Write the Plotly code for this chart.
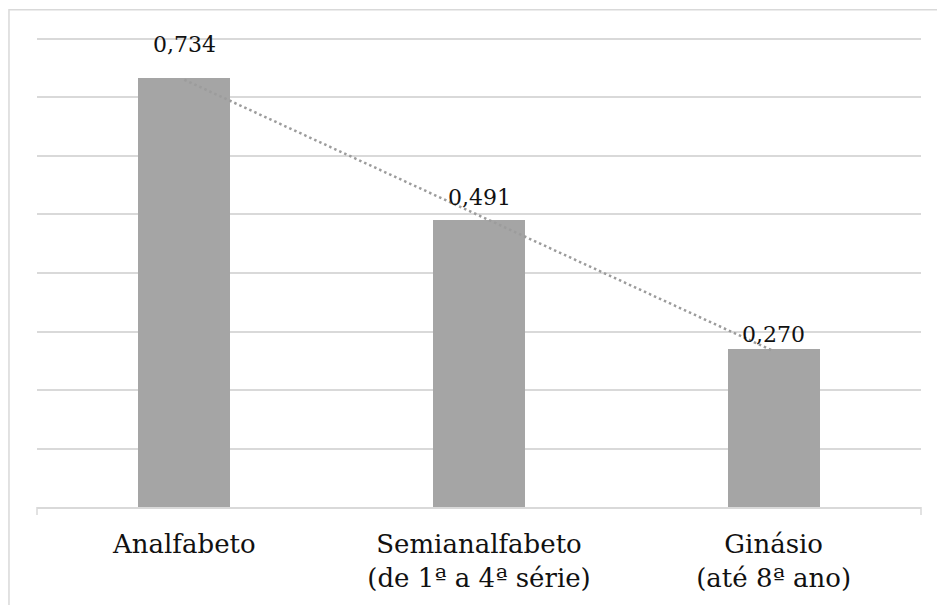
import numpy as np
import plotly.graph_objects as go

# Categories (two-line labels) and values
categories = ["Analfabeto", "Semianalfabeto<br>(de 1ª a 4ª série)", "Ginásio<br>(até 8ª ano)"]
values = [0.734, 0.491, 0.270]
value_labels = ["0,734", "0,491", "0,270"]
y_ticks = [0, 0.1, 0.2, 0.3, 0.4, 0.5, 0.6, 0.7, 0.8]

# Vertical pixel offsets for the value labels
label_shift = [19, 8, 0]

SERIF = "DejaVu Serif"
GRID = "#d9d9d9"
BAR = "#a5a5a5"

# Linear trend fitted over the category index
idx = np.arange(1, len(values) + 1)
slope, intercept = np.polyfit(idx, values, 1)
trend = slope * idx + intercept

fig = go.Figure()

# Trend line first so the bars are painted over it
fig.add_trace(go.Scatter(
    x=categories, y=trend, mode="lines",
    line=dict(color="#9c9c9c", width=2.5, dash="2.5px,3px"),
    hoverinfo="skip", showlegend=False,
))

fig.add_trace(go.Bar(
    x=categories, y=values, width=0.312,
    marker=dict(color=BAR, line=dict(width=0)),
    showlegend=False,
))

for c, v, t, s in zip(categories, values, value_labels, label_shift):
    fig.add_annotation(
        x=c, y=v, text=t, showarrow=False,
        yanchor="bottom", yshift=s,
        font=dict(family=SERIF, size=22, color="#111111"),
    )

# Frame around the chart area (left and top edges visible)
fig.add_shape(type="rect", xref="paper", yref="paper",
              x0=-0.0317, x1=1.06, y0=-0.3, y1=1.058,
              line=dict(color=GRID, width=1.5), layer="below")

# End ticks on the category axis
for xd in (0, 1):
    fig.add_shape(type="line", xref="x domain", yref="paper",
                  x0=xd, x1=xd, y0=0, y1=-0.0171,
                  line=dict(color=GRID, width=1.5))

fig.update_layout(
    width=937, height=605,
    margin=dict(l=37, r=16, t=37, b=98),
    paper_bgcolor="white", plot_bgcolor="white",
    bargap=0,
    font=dict(family=SERIF, color="#111111"),
)

fig.update_xaxes(
    type="category", range=[-0.5, 2.5], automargin=False,
    showgrid=False, showline=True, linecolor=GRID, linewidth=1.5,
    ticks="", tickfont=dict(family=SERIF, size=26, color="#111111"),
    ticklabelstandoff=13,
)
fig.update_yaxes(
    range=[0, 0.8034], tickvals=y_ticks, showticklabels=False,
    showgrid=True, gridcolor=GRID, gridwidth=1.5, automargin=False,
    zeroline=False, showline=False,
)

fig.write_html("out.html")
